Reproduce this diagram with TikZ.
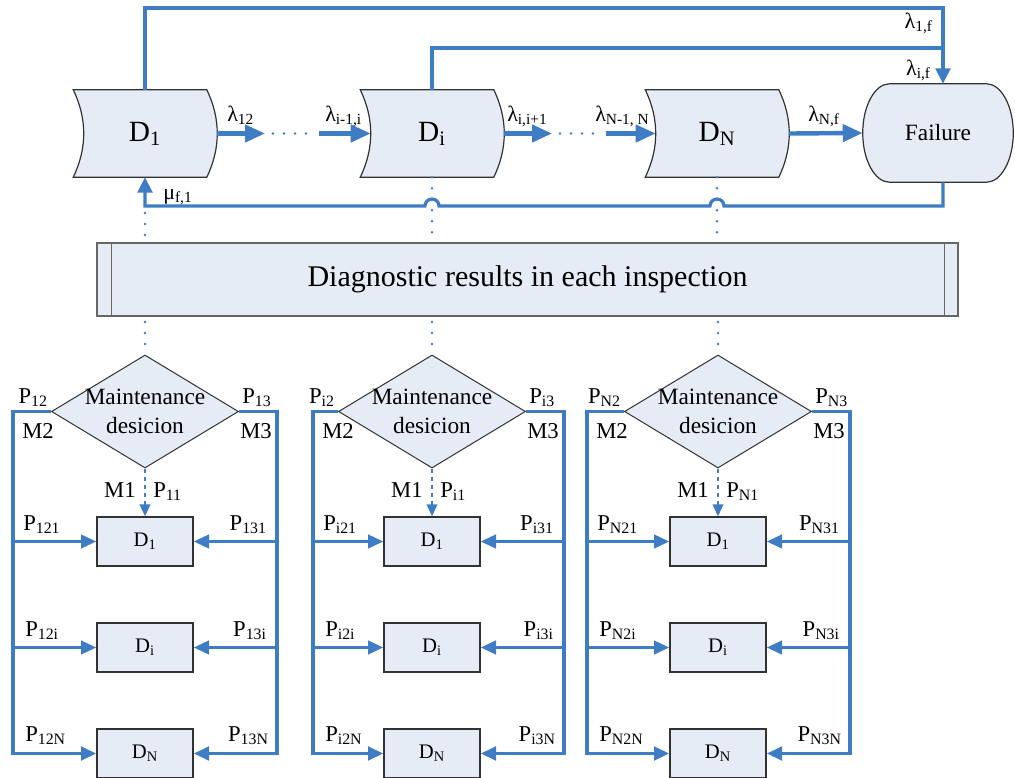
\documentclass[tikz,border=0pt]{standalone}
\usepackage{fontspec}
\setmainfont{Liberation Serif}
\usetikzlibrary{arrows.meta,shapes.geometric,calc}
\pgfdeclarelayer{background}
\pgfsetlayers{background,main}
\definecolor{flowblue}{RGB}{62,124,196}
\definecolor{paleblue}{RGB}{229,236,245}
\definecolor{inkgray}{RGB}{50,50,50}

% outline of a stored-data state: concave left side, convex right side
\newcommand\storeoutline[1]{%
  \path[storeline] ([xshift=-3.75pt]#1.north west) -- ([xshift=-3.75pt]#1.north east)
    .. controls ([xshift=6.75pt,yshift=-21.75pt]#1.north east) and ([xshift=6.75pt,yshift=21.75pt]#1.south east) .. ([xshift=-3.75pt]#1.south east)
    -- ([xshift=-3.75pt]#1.south west)
    .. controls ([xshift=6.75pt,yshift=21.75pt]#1.south west) and ([xshift=6.75pt,yshift=-21.75pt]#1.north west) .. cycle;}

% terminal outline with elliptical ends
\newcommand\terminaloutline[1]{%
  \path[storeline] ([xshift=20.25pt]#1.north west) -- ([xshift=-20.25pt]#1.north east)
    .. controls ([xshift=-9.05pt]#1.north east) and ([yshift=20.3pt]#1.east) .. (#1.east)
    .. controls ([yshift=-20.3pt]#1.east) and ([xshift=-9.05pt]#1.south east) .. ([xshift=-20.25pt]#1.south east)
    -- ([xshift=20.25pt]#1.south west)
    .. controls ([xshift=9.05pt]#1.south west) and ([yshift=-20.3pt]#1.west) .. (#1.west)
    .. controls ([yshift=20.3pt]#1.west) and ([xshift=9.05pt]#1.north west) .. cycle;}

% one maintenance-decision block: #1 prefix, #2 centre x, #3 left rail x, #4 right rail x, #5 index
\newcommand\decisiongroup[5]{%
  \node[decision] (#1m) at (#2,411.5) {};
  \node[decisiontext] (#1t) at (#1m) {Maintenance\\desicion};
  \node[statebox] (#1a) at (#2,541.5) {D\textsubscript{1}};
  \node[statebox] (#1b) at (#2,647.5) {D\textsubscript{i}};
  \node[statebox] (#1c) at (#2,753.5) {D\textsubscript{N}};
  \coordinate (#1l) at (#3,411.5);
  \coordinate (#1r) at (#4,411.5);
  \coordinate (#1d) at (#2,322);
  \draw[dotline] (#1d) -- (#1m.north);
  \draw[choice] (#1m.south) -- (#1a.north);
  \draw[rail,branchtip] (#1m.west) -- (#1l) |- (#1c.west);
  \draw[rail,branchtip] (#1m.east) -- (#1r) |- (#1c.east);
  \draw[branch] (#1a.west -| #1l) -- (#1a.west);
  \draw[branch] (#1b.west -| #1l) -- (#1b.west);
  \draw[branch] (#1a.east -| #1r) -- (#1a.east);
  \draw[branch] (#1b.east -| #1r) -- (#1b.east);
  \node[plabel,anchor=base east] (#1ptwo) at ($(#1m.west)+(-3,-8.5)$) {P\textsubscript{#52}};
  \node[plabel,anchor=base west] (#1mtwo) at (#3+9,438) {M2};
  \node[plabel,anchor=base west] (#1pthree) at ($(#1m.east)+(3,-8.5)$) {P\textsubscript{#53}};
  \node[plabel,anchor=base west] (#1mthree) at ($(#1m.east)+(1,26.5)$) {M3};
  \node[plabel,anchor=base east] (#1mone) at (#2-9,497) {M1};
  \node[plabel,anchor=base west] (#1pone) at (#2+8,497) {P\textsubscript{#51}};
  \node[plabel,anchor=base west] (#1pa) at (#3+10,530) {P\textsubscript{#521}};
  \node[plabel,anchor=base east] (#1qa) at (#4-10,530) {P\textsubscript{#531}};
  \node[plabel,anchor=base west] (#1pb) at (#3+12,636) {P\textsubscript{#52i}};
  \node[plabel,anchor=base east] (#1qb) at (#4-10,636) {P\textsubscript{#53i}};
  \node[plabel,anchor=base west] (#1pc) at (#3+12,741) {P\textsubscript{#52N}};
  \node[plabel,anchor=base east] (#1qc) at (#4-8,741) {P\textsubscript{#53N}};
}

\begin{document}
\begin{tikzpicture}[x=0.75pt,y=-0.75pt,
  store/.style={minimum width=99.75pt, minimum height=65.25pt, inner sep=0pt, font=\fontsize{22}{26}\selectfont},
  storeline/.style={draw=inkgray, line width=0.9pt, fill=paleblue},
  failnode/.style={minimum width=112.5pt, minimum height=73.5pt, inner sep=0pt, font=\fontsize{17.5}{21}\selectfont},
  bar/.style={draw=black!60, fill=paleblue, line width=1.1pt, minimum width=645.75pt, minimum height=54.75pt, inner sep=0pt, font=\fontsize{22.5}{27}\selectfont},
  statebox/.style={draw=inkgray, fill=paleblue, line width=1pt, minimum width=72pt, minimum height=36.75pt, inner sep=0pt, font=\fontsize{15.5}{18}\selectfont},
  decision/.style={diamond, draw=inkgray, fill=paleblue, line width=0.75pt, minimum width=140.25pt, minimum height=84.75pt, inner sep=0pt},
  decisiontext/.style={align=center, inner sep=0pt, font=\fontsize{17.5}{21.75}\selectfont},
  rate/.style={inner sep=0pt, font=\fontsize{16.5}{19}\selectfont},
  plabel/.style={inner sep=0pt, font=\fontsize{17}{20}\selectfont},
  bigflow/.style={draw=flowblue, line width=3.3pt, -{Triangle[length=15pt,width=12.75pt]}},
  loopflow/.style={draw=flowblue, line width=2.4pt},
  looptip/.style={-{Triangle[length=11.5pt,width=11pt]}},
  rail/.style={draw=flowblue, line width=2.8pt},
  branchtip/.style={-{Triangle[length=11.5pt,width=10pt]}},
  branch/.style={draw=flowblue, line width=2.4pt, -{Triangle[length=11.5pt,width=10pt]}},
  dotline/.style={draw=flowblue, line width=2pt, line cap=round, dash pattern=on 0pt off 8.25pt},
  choice/.style={draw=flowblue, line width=1.1pt, dash pattern=on 3.5pt off 2.5pt, -{Triangle[length=9pt,width=8pt]}},
]
\useasboundingbox (0,0) rectangle (1015,778);

% ---- degradation states and failure ----
\node[store] (d1) at (145,133.5) {D\textsubscript{1}};
\node[store] (di) at (432,133.5) {D\textsubscript{i}};
\node[store] (dn) at (717,133.5) {D\textsubscript{N}};
\node[failnode] (fail) at (938,133) {Failure};
\begin{pgfonlayer}{background}
  \storeoutline{d1}
  \storeoutline{di}
  \storeoutline{dn}
  \terminaloutline{fail}
\end{pgfonlayer}

% ---- transitions between states ----
\coordinate (g1) at (265,133.5);
\coordinate (g2) at (273,133.5);
\coordinate (g3) at (308,133.5);
\coordinate (g4) at (319,133.5);
\coordinate (h1) at (552,133.5);
\coordinate (h2) at (560,133.5);
\coordinate (h3) at (595,133.5);
\coordinate (h4) at (606,133.5);
\draw[bigflow] ([xshift=4.1pt]d1.east) -- (g1);
\draw[dotline] (g2) -- (g3);
\draw[bigflow] (g4) -- ([xshift=4.1pt]di.west);
\draw[bigflow] ([xshift=4.1pt]di.east) -- (h1);
\draw[dotline] (h2) -- (h3);
\draw[bigflow] (h4) -- ([xshift=4.1pt]dn.west);
\draw[bigflow] ([xshift=4.1pt]dn.east) -- (fail.west);

% ---- direct failure paths and repair path ----
\coordinate (tr) at (943,8);
\coordinate (j) at (943,48);
\coordinate (rr) at (943,206);
\coordinate (rl) at (145,206);
\draw[loopflow,looptip] (d1.north) |- (tr) -- (fail.north -| tr);
\draw[loopflow] (di.north) |- (j);
\draw[loopflow,looptip] (fail.south -| tr) -- (rr) -- (724,206)
  arc[start angle=0,end angle=-180,radius=7] -- (439,206)
  arc[start angle=0,end angle=-180,radius=7] -- (rl) -- (d1.south);

\node[rate,anchor=base west] (r12) at (227,121) {λ\textsubscript{12}};
\node[rate,anchor=base west] (rprev) at (325,121) {λ\textsubscript{i-1,i}};
\node[rate,anchor=base west] (rnext) at (507,121) {λ\textsubscript{i,i+1}};
\node[rate,anchor=base west] (rlast) at (595,121) {λ\textsubscript{N-1, N}};
\node[rate,anchor=base west] (rnf) at (808,121) {λ\textsubscript{N,f}};
\node[rate,anchor=base east] (r1f) at (933,28) {λ\textsubscript{1,f}};
\node[rate,anchor=base east] (rif) at (931,75) {λ\textsubscript{i,f}};
\node[rate,anchor=base west] (mu) at (163,199) {μ\textsubscript{f,1}};

% ---- inspection bar ----
\node[bar] (diag) at (527.5,279.5) {Diagnostic results in each inspection};
\draw[black!60, line width=1.1pt] ([xshift=11.25pt]diag.north west) -- ([xshift=11.25pt]diag.south west);
\draw[black!60, line width=1.1pt] ([xshift=-10.5pt]diag.north east) -- ([xshift=-10.5pt]diag.south east);

\coordinate (u1) at (145,213);
\coordinate (u1e) at (145,238);
\coordinate (u2e) at (432,238);
\coordinate (u3e) at (717,238);
\draw[dotline] (u1) -- (u1e);
\draw[dotline] (di.south) -- (u2e);
\draw[dotline] (dn.south) -- (u3e);

% ---- maintenance decisions ----
\decisiongroup{ga}{145}{13}{277}{1}
\decisiongroup{gb}{432}{313}{564}{i}
\decisiongroup{gc}{718}{587}{850}{N}
\end{tikzpicture}
\end{document}
